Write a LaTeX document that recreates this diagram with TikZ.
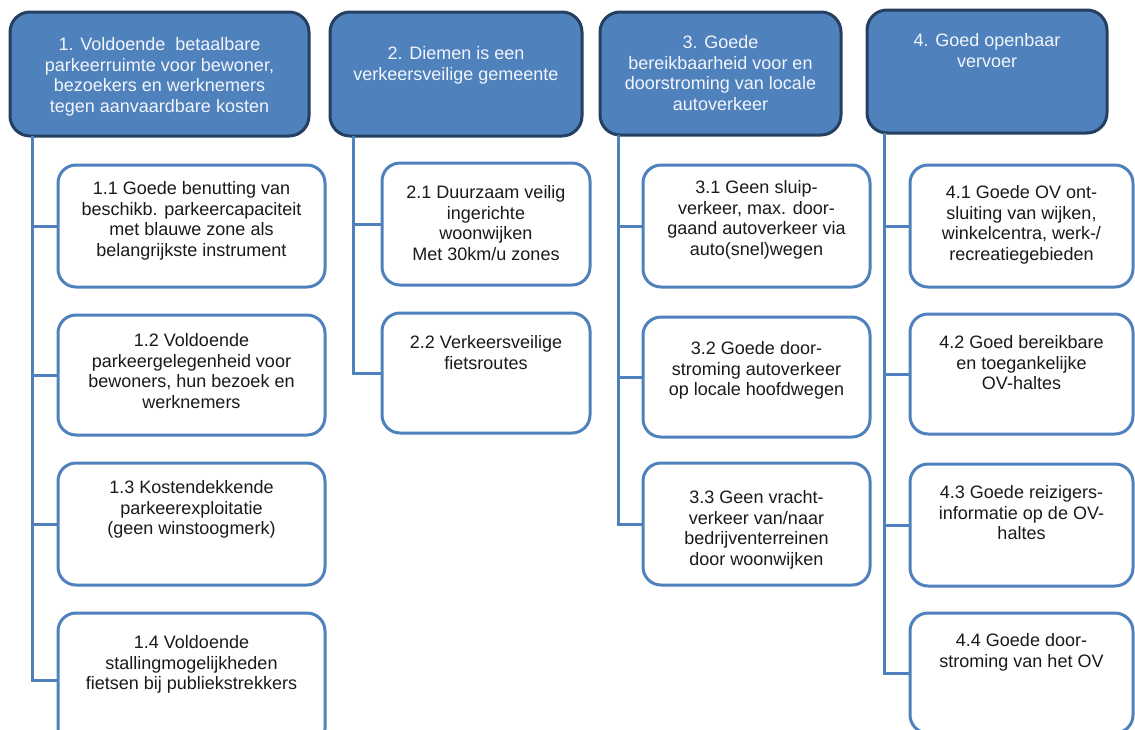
\documentclass[tikz,border=0pt]{standalone}
\usepackage{fontspec}
\setmainfont{Liberation Sans}
\definecolor{topfill}{HTML}{4F81BD}
\definecolor{topline}{HTML}{243F60}
\definecolor{subline}{HTML}{4F81BD}
\definecolor{toptxt}{HTML}{F2F5FA}
\definecolor{subtxt}{HTML}{1A1A1A}
\tikzset{
  topbox/.style={draw=topline, line width=3pt, fill=topfill, rounded corners=20pt,
    inner sep=0pt, outer sep=0pt, anchor=north west},
  subbox/.style={draw=subline, line width=3pt, fill=white, rounded corners=18pt,
    inner sep=0pt, outer sep=0pt, anchor=north west},
  toptext/.style={text=toptxt, align=center, anchor=north, inner sep=0pt,
    font=\fontsize{18}{20.5}\selectfont},
  subtext/.style={text=subtxt, align=center, anchor=north, inner sep=0pt,
    font=\fontsize{18}{20.5}\selectfont},
  link/.style={draw=subline, line width=3pt}
}
\begin{document}
\begin{tikzpicture}[x=1pt,y=-1pt]
\useasboundingbox (0,0) rectangle (1135,729);
\clip (0,0) rectangle (1135,729);
% top boxes
\node[topbox, minimum width=299pt, minimum height=124pt] (T1) at (10,12) {};
\node[topbox, minimum width=252pt, minimum height=124pt] (T2) at (330,12) {};
\node[topbox, minimum width=241pt, minimum height=123pt] (T3) at (600,12) {};
\node[topbox, minimum width=240pt, minimum height=123pt] (T4) at (867,10) {};
\node[toptext] (T1t) at (159.5,37.5) {1. Voldoende\ \ betaalbare\\parkeerruimte voor bewoner,\\bezoekers en werknemers\\tegen aanvaardbare kosten};
\node[toptext] (T2t) at (456,46.5) {2. Diemen is een\\verkeersveilige gemeente};
\node[toptext] (T3t) at (720.5,35.5) {3. Goede\\bereikbaarheid voor en\\doorstroming van locale\\autoverkeer};
\node[toptext] (T4t) at (987,33.5) {4. Goed openbaar\\vervoer};
% column 1
\node[subbox, minimum width=267pt, minimum height=122pt] (b11) at (58,165) {};
\node[subbox, minimum width=267pt, minimum height=120pt] (b12) at (58,315) {};
\node[subbox, minimum width=267pt, minimum height=122pt] (b13) at (58,463) {};
\node[subbox, minimum width=267pt, minimum height=134pt] (b14) at (58,613) {};
\node[subtext] (b11t) at (191.5,181.5) {1.1 Goede benutting van\\beschikb. parkeercapaciteit\\met blauwe zone als\\belangrijkste instrument};
\node[subtext] (b12t) at (191.5,333.5) {1.2 Voldoende\\parkeergelegenheid voor\\bewoners, hun bezoek en\\werknemers};
\node[subtext] (b13t) at (191.5,480.5) {1.3 Kostendekkende\\parkeerexploitatie\\(geen winstoogmerk)};
\node[subtext] (b14t) at (191.5,635.5) {1.4 Voldoende\\stallingmogelijkheden\\fietsen bij publiekstrekkers};
% column 2
\node[subbox, minimum width=208pt, minimum height=122pt] (b21) at (382,163) {};
\node[subbox, minimum width=208pt, minimum height=120pt] (b22) at (382,313) {};
\node[subtext] (b21t) at (486,185.5) {2.1 Duurzaam veilig\\ingerichte\\woonwijken\\Met 30km/u zones};
\node[subtext] (b22t) at (486,335.5) {2.2 Verkeersveilige\\fietsroutes};
% column 3
\node[subbox, minimum width=227pt, minimum height=122pt] (b31) at (643,165) {};
\node[subbox, minimum width=227pt, minimum height=120pt] (b32) at (643,317) {};
\node[subbox, minimum width=227pt, minimum height=122pt] (b33) at (643,463) {};
\node[subtext] (b31t) at (756.5,180.5) {3.1 Geen sluip-\\verkeer, max. door-\\gaand autoverkeer via\\auto(snel)wegen};
\node[subtext] (b32t) at (756.5,341.5) {3.2 Goede door-\\stroming autoverkeer\\op locale hoofdwegen};
\node[subtext] (b33t) at (756.5,490.5) {3.3 Geen vracht-\\verkeer van/naar\\bedrijventerreinen\\door woonwijken};
% column 4
\node[subbox, minimum width=223pt, minimum height=122pt] (b41) at (910,165) {};
\node[subbox, minimum width=223pt, minimum height=120pt] (b42) at (910,314) {};
\node[subbox, minimum width=223pt, minimum height=122pt] (b43) at (910,464) {};
\node[subbox, minimum width=223pt, minimum height=120pt] (b44) at (910,613) {};
\node[subtext] (b41t) at (1021.5,185.5) {4.1 Goede OV ont-\\sluiting van wijken,\\winkelcentra, werk-/\\recreatiegebieden};
\node[subtext] (b42t) at (1021.5,335.5) {4.2 Goed bereikbare\\en toegankelijke\\OV-haltes};
\node[subtext] (b43t) at (1021.5,485.5) {4.3 Goede reizigers-\\informatie op de OV-\\haltes};
\node[subtext] (b44t) at (1021.5,633.5) {4.4 Goede door-\\stroming van het OV};
% trunk start points
\path (T1.south west) ++(22,0) coordinate (s1);
\path (T2.south west) ++(23,0) coordinate (s2);
\path (T3.south west) ++(18,0) coordinate (s3);
\path (T4.south west) ++(17,0) coordinate (s4);
% connectors
\draw[link] (s1) |- (b14.west);
\draw[link] (s1 |- b11.west) -- (b11.west);
\draw[link] (s1 |- b12.west) -- (b12.west);
\draw[link] (s1 |- b13.west) -- (b13.west);
\draw[link] (s2) |- (b22.west);
\draw[link] (s2 |- b21.west) -- (b21.west);
\draw[link] (s3) |- (b33.west);
\draw[link] (s3 |- b31.west) -- (b31.west);
\draw[link] (s3 |- b32.west) -- (b32.west);
\draw[link] (s4) |- (b44.west);
\draw[link] (s4 |- b41.west) -- (b41.west);
\draw[link] (s4 |- b42.west) -- (b42.west);
\draw[link] (s4 |- b43.west) -- (b43.west);
\end{tikzpicture}
\end{document}
